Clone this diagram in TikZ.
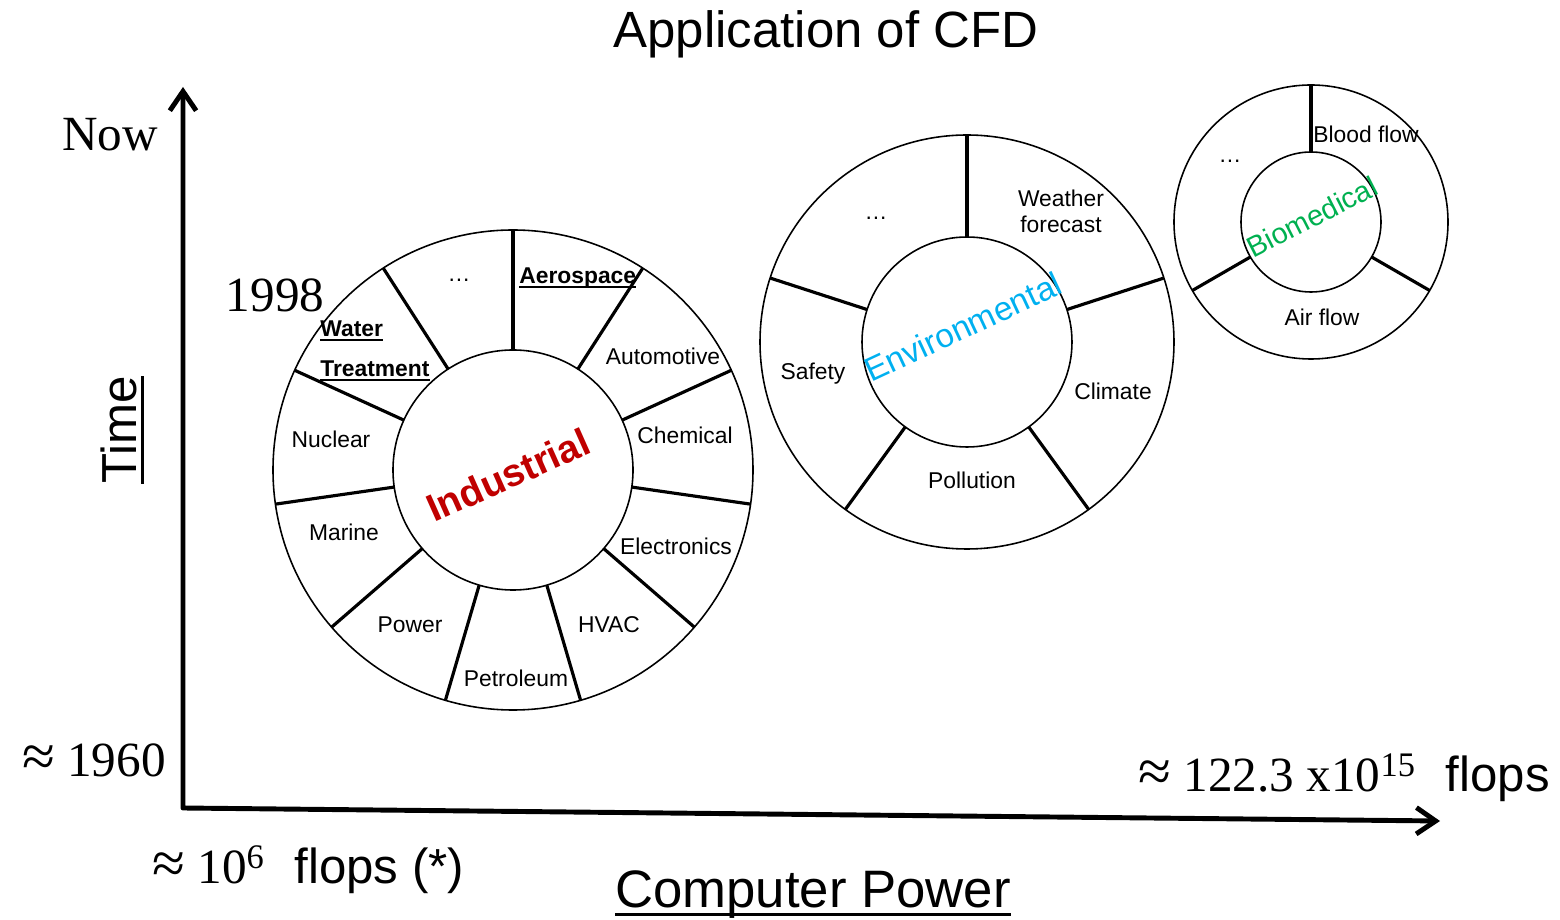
\documentclass[tikz,border=0pt]{standalone}
\usepackage{fontspec}
\setmainfont{Liberation Sans}
\newfontfamily\tms{Liberation Serif}
\usetikzlibrary{arrows.meta}

\definecolor{indred}{RGB}{192,0,0}
\definecolor{envblue}{RGB}{0,176,240}
\definecolor{biogreen}{RGB}{0,176,80}

% underline with a thickness of our own
\newcommand{\ulin}[2][1.1pt]{\leavevmode\setbox0\hbox{#2}\rlap{\vrule height -0.1em depth \dimexpr0.1em+#1\relax width \wd0}\box0}
% a larger approx sign
\newcommand{\apx}{{\fontsize{34}{34}\selectfont ≈}}

\begin{document}
\begin{tikzpicture}[x=0.02cm, y=0.02cm, line join=round,
  ring/.style={line width=0.9pt},
  spoke/.style={line width=1.8pt},
  axis/.style={line width=2.8pt, {Straight Barb[length=11pt,width=15pt]}-{Straight Barb[length=11pt,width=15pt]}},
  lbl/.style={font=\fontsize{13}{14.7}\selectfont, inner sep=0pt},
  bold/.style={lbl, font=\bfseries\fontsize{13}{14.7}\selectfont},
  tms/.style={font=\tms\fontsize{28}{32}\selectfont, inner sep=0pt}]

\useasboundingbox (0,0) rectangle (1560,920);

% title
\node [font=\fontsize{29}{34}\selectfont, anchor=base] (title) at (826,872) {Application of CFD};

% axes
\coordinate (tnow) at (183,833);
\coordinate (orig) at (183,112);
\coordinate (pmax) at (1440,99);
\draw [axis] (tnow) -- (orig) -- (pmax);

\node [tms] (now) at (110,785) {Now};
\node [tms] (y98) at (275,625) {1998};
\node [tms, anchor=east] (y60) at (166,160) {\apx\ 1960};
\node [rotate=90, font=\fontsize{28}{32}\selectfont, inner sep=0pt] (time) at (122,490) {\ulin[1.4pt]{Time}};
\node [anchor=base west, inner sep=0pt] (fmin) at (152,36)
  {{\tms\fontsize{28}{32}\selectfont \apx\ 10\textsuperscript{6}}\hspace{17pt}{\fontsize{28}{32}\selectfont flops (*)}};
\node [anchor=base east, inner sep=0pt] (fmax) at (1550,128)
  {{\tms\fontsize{28}{32}\selectfont \apx\ 122.3 x10\textsuperscript{15}}\hspace{17pt}{\fontsize{28}{32}\selectfont flops}};
\node [anchor=base, font=\fontsize{30}{34}\selectfont, inner sep=0pt] (power) at (813,12)
  {\ulin[1.6pt]{Computer Power}};

% industrial
\coordinate (ind) at (513,450);
\draw [ring] (ind) circle (240);
\draw [ring] (ind) circle (120);
\draw [spoke] (ind) ++(90:120) -- ++(90:120);
\draw [spoke] (ind) ++(57.27:120) -- ++(57.27:120);
\draw [spoke] (ind) ++(24.55:120) -- ++(24.55:120);
\draw [spoke] (ind) ++(-8.18:120) -- ++(-8.18:120);
\draw [spoke] (ind) ++(-40.91:120) -- ++(-40.91:120);
\draw [spoke] (ind) ++(-73.64:120) -- ++(-73.64:120);
\draw [spoke] (ind) ++(-106.36:120) -- ++(-106.36:120);
\draw [spoke] (ind) ++(-139.09:120) -- ++(-139.09:120);
\draw [spoke] (ind) ++(-171.82:120) -- ++(-171.82:120);
\draw [spoke] (ind) ++(155.45:120) -- ++(155.45:120);
\draw [spoke] (ind) ++(122.73:120) -- ++(122.73:120);

\node [rotate=24, font=\bfseries\fontsize{22}{26}\selectfont, text=indred] (indlbl) at (508,445) {Industrial};
\node [lbl] (inddots) at (459,640) {\ldots};
\node [bold, anchor=west] (aero) at (519,642) {\ulin{Aerospace}};
\node [lbl] (auto) at (663,564) {Automotive};
\node [lbl] (chem) at (685,485) {Chemical};
\node [lbl] (elec) at (676,374) {Electronics};
\node [lbl] (hvac) at (609,295) {HVAC};
\node [lbl] (petro) at (516,242) {Petroleum};
\node [lbl] (pow) at (410,295) {Power};
\node [lbl] (mar) at (344,388) {Marine};
\node [lbl] (nuc) at (331,481) {Nuclear};
\node [bold, anchor=west] (water) at (320,589) {\ulin{Water}};
\node [bold, anchor=west] (treat) at (320,549) {\ulin{Treatment}};

% environmental
\coordinate (env) at (967,578);
\draw [ring] (env) circle (207);
\draw [ring] (env) circle (105);
\draw [spoke] (env) ++(90:105) -- ++(90:102);
\draw [spoke] (env) ++(18:105) -- ++(18:102);
\draw [spoke] (env) ++(-54:105) -- ++(-54:102);
\draw [spoke] (env) ++(-126:105) -- ++(-126:102);
\draw [spoke] (env) ++(162:105) -- ++(162:102);

\node [rotate=25, font=\fontsize{19}{22}\selectfont, text=envblue] (envlbl) at (963,593) {Environmental};
\node [lbl] (envdots) at (876,702) {\ldots};
\node [lbl, align=center] (wea) at (1061,709) {Weather\\forecast};
\node [lbl] (clim) at (1113,529) {Climate};
\node [lbl] (poll) at (972,440) {Pollution};
\node [lbl] (safe) at (813,546) {Safety};

% biomedical
\coordinate (bio) at (1311,698);
\draw [ring] (bio) circle (137);
\draw [ring] (bio) circle (70);
\draw [spoke] (bio) ++(90:70) -- ++(90:67);
\draw [spoke] (bio) ++(-30:70) -- ++(-30:67);
\draw [spoke] (bio) ++(210:70) -- ++(210:67);

\node [rotate=27, font=\fontsize{16.5}{19}\selectfont, text=biogreen] (biolbl) at (1312,703) {Biomedical};
\node [lbl] (blood) at (1366,786) {Blood flow};
\node [lbl] (biodots) at (1230,759) {\ldots};
\node [lbl] (air) at (1322,603) {Air flow};
\end{tikzpicture}
\end{document}
